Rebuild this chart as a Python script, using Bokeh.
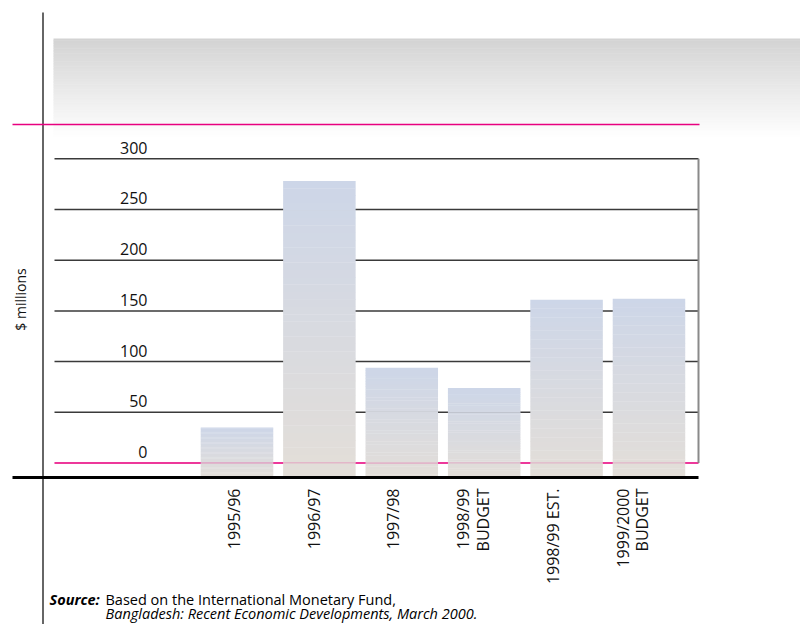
import math
from bokeh.plotting import figure
from bokeh.models import Range1d
from bokeh.core.properties import value
from bokeh.embed import file_html
from bokeh.resources import INLINE

# ---------------- data ----------------
categories = ["1995/96", "1996/97", "1997/98", "1998/99\nBUDGET", "1998/99 EST.", "1999/2000\nBUDGET"]
values = [35, 278, 94, 74, 161, 162]
tick_values = [0, 50, 100, 150, 200, 250, 300]
tick_labels = ["0", "50", "100", "150", "200", "250", "300"]
y_label = "$ millions"
source_label = "Source:"
source_line1 = "Based on the International Monetary Fund,"
source_line2 = "Bangladesh: Recent Economic Developments, March 2000."

# ---------------- style ----------------
FONT = value("Open Sans")
MAGENTA = "#e8007f"
BAR_TOP = (205, 214, 232)
BAR_BOT = (227, 222, 216)
BAR_WIDTH = 0.88
BASE_VALUE = -14.3   # bars run down to the heavy base line

def mix(c1, c2, t):
    return "#%02x%02x%02x" % tuple(int(round(a + (b - a) * t)) for a, b in zip(c1, c2))

p = figure(width=800, height=624,
           x_range=Range1d(-2.870, 6.839), y_range=Range1d(-159.3, 456.1),
           x_axis_type=None, y_axis_type=None,
           output_backend="svg", toolbar_location=None, min_border=0)
p.outline_line_color = None
p.background_fill_color = "white"
p.border_fill_color = "white"
p.xgrid.visible = False
p.ygrid.visible = False

# pixel ranges for decorations, and a scale for the category labels
p.extra_x_ranges = {"px": Range1d(0, 800), "lab": Range1d(-2.937, 7.113)}
p.extra_y_ranges = {"px": Range1d(624, 0)}

# grey gradient banner
n_band = 60
b_top, b_bot = 38.0, 136.0
band_t, band_b, band_c = [], [], []
for k in range(n_band):
    y0 = b_top + (b_bot - b_top) * k / n_band
    y1 = b_top + (b_bot - b_top) * (k + 1) / n_band
    band_t.append(y0)
    band_b.append(y1 + 0.5)
    g = int(round(211 + (254 - 211) * (k / (n_band - 1))))
    band_c.append("#%02x%02x%02x" % (g, g, g))
p.quad(left=53, right=800, top=band_t, bottom=band_b, fill_color=band_c,
       line_color=None, x_range_name="px", y_range_name="px")

# left vertical rule
p.segment(x0=42.5, y0=12, x1=42.5, y1=624, line_color="#666666", line_width=2,
          x_range_name="px", y_range_name="px")
# top magenta rule
p.segment(x0=12, y0=124, x1=699, y1=124, line_color=MAGENTA, line_width=1.5,
          x_range_name="px", y_range_name="px")

# gridlines at tick values
grid_vals = [t for t in tick_values if t != 0]
p.segment(x0=54, x1=698, y0=grid_vals, y1=grid_vals, line_color="#3a3a3a",
          line_width=1.5, x_range_name="px")
# zero line in magenta
p.segment(x0=54, x1=698, y0=0, y1=0, line_color=MAGENTA, line_width=1.5, x_range_name="px")
# right border of the grid
p.segment(x0=698, x1=698, y0=0, y1=max(tick_values), line_color="#8a8a8a",
          line_width=2, x_range_name="px")

# bars with a vertical gradient
n_sl = 40
ql, qr, qb, qt, qc = [], [], [], [], []
for i, v in enumerate(values):
    for k in range(n_sl):
        lo = BASE_VALUE + (v - BASE_VALUE) * k / n_sl
        hi = BASE_VALUE + (v - BASE_VALUE) * (k + 1) / n_sl
        ql.append(i - BAR_WIDTH / 2)
        qr.append(i + BAR_WIDTH / 2)
        qb.append(lo)
        qt.append(min(hi + 0.3, v))
        qc.append(mix(BAR_BOT, BAR_TOP, (k + 0.5) / n_sl))
p.quad(left=ql, right=qr, bottom=qb, top=qt, fill_color=qc, line_color=None)

# faint zero line visible through the bars
p.segment(x0=54, x1=698, y0=0, y1=0, line_color=MAGENTA, line_width=1.2,
          line_alpha=0.18, x_range_name="px")

# heavy base line
p.segment(x0=12, y0=477, x1=698, y1=477, line_color="#000000", line_width=3,
          x_range_name="px", y_range_name="px")

# y tick labels (above the gridlines)
p.text(x=147, y=tick_values, text=tick_labels, text_align="right",
       text_baseline="alphabetic", y_offset=-11, text_font=FONT,
       text_font_size="16px", text_color="#111111", x_range_name="px")

# y axis title
p.text(x=[20], y=[299], text=[y_label], angle=math.pi / 2, text_align="center",
       text_baseline="middle", text_font=FONT, text_font_size="14px",
       text_color="#111111", x_range_name="px", y_range_name="px")

# category labels (rotated)
p.text(x=list(range(len(categories))), y=488, text=categories, angle=math.pi / 2,
       text_align="right", text_baseline="middle", text_line_height=0.88,
       text_font=FONT, text_font_size="16px", text_color="#111111",
       x_range_name="lab", y_range_name="px")

# source note
p.text(x=[49], y=[599], text=[source_label], text_font=FONT, text_font_size="14.5px",
       text_font_style="bold italic", text_baseline="alphabetic", text_color="#000000",
       x_range_name="px", y_range_name="px")
p.text(x=[105, 105], y=[599, 613], text=[source_line1, source_line2],
       text_font=FONT, text_font_size="14.5px", text_font_style=["normal", "italic"],
       text_baseline="alphabetic", text_color="#000000",
       x_range_name="px", y_range_name="px")

open("out.html", "w").write(file_html(p, INLINE))
